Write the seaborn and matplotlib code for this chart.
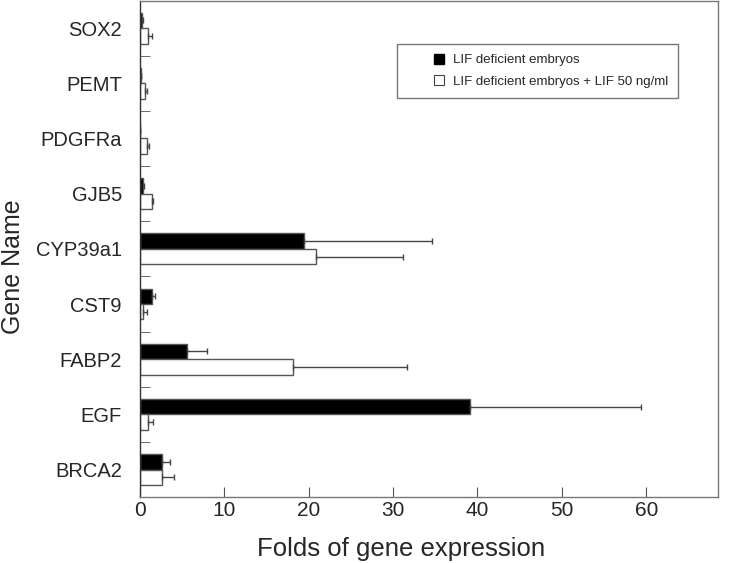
import numpy as np
import pandas as pd
import matplotlib
matplotlib.use('Agg')
import matplotlib.pyplot as plt
import seaborn as sns
from matplotlib.lines import Line2D
from matplotlib.ticker import FixedLocator

genes = ['SOX2', 'PEMT', 'PDGFRa', 'GJB5', 'CYP39a1', 'CST9', 'FABP2', 'EGF', 'BRCA2']
groups = ['LIF deficient embryos', 'LIF deficient embryos + LIF 50 ng/ml']
lif_def = [0.3, 0.1, 0.0, 0.4, 19.4, 1.4, 5.6, 39.1, 2.6]
lif_def_err = [0.1, 0.0, 0.0, 0.1, 15.2, 0.4, 2.3, 20.3, 1.0]
lif_add = [0.95, 0.6, 0.8, 1.45, 20.9, 0.4, 18.1, 1.0, 2.6]
lif_add_err = [0.5, 0.3, 0.3, 0.1, 10.3, 0.4, 13.6, 0.6, 1.5]

df = pd.DataFrame({
    'gene': genes * 2,
    'group': [groups[0]] * len(genes) + [groups[1]] * len(genes),
    'value': lif_def + lif_add,
})

sns.set_style('ticks')
plt.rcParams['font.family'] = ['Liberation Sans', 'DejaVu Sans']

fig = plt.figure(figsize=(7.32, 5.63), dpi=100)
ax = fig.add_axes([0.191, 0.117, 0.79, 0.882])

sns.barplot(data=df, y='gene', x='value', hue='group', order=genes,
            hue_order=groups, palette=['black', 'white'], width=0.56,
            orient='h', edgecolor='#555555', linewidth=1, legend=False,
            errorbar=None, ax=ax)

# error bars, positive side only
for cont, vals, errs in zip(ax.containers, [lif_def, lif_add], [lif_def_err, lif_add_err]):
    ys = [p.get_y() + p.get_height() / 2 for p in cont.patches]
    ax.errorbar(vals, ys, xerr=[np.zeros(len(errs)), errs], fmt='none',
                ecolor='#444444', elinewidth=1, capsize=2, capthick=1)

ax.set_xlim(0, 68.5)
ax.set_ylim(len(genes) - 0.5, -0.5)
ax.set_xticks([0, 10, 20, 30, 40, 50, 60])
ax.tick_params(axis='x', direction='in', length=7, labelsize=15, pad=3, color='#555555')
ax.tick_params(axis='y', which='major', length=0, labelsize=14.5, pad=13)
ax.yaxis.set_minor_locator(FixedLocator(np.arange(0.5, len(genes) - 1, 1)))
ax.tick_params(axis='y', which='minor', direction='in', length=7, color='#555555')

for s in ax.spines.values():
    s.set_visible(True)
    s.set_color('#777777')
    s.set_linewidth(1)
ax.spines['left'].set_color('#333333')

ax.set_xlabel('Folds of gene expression', fontsize=18.5, labelpad=12)
ax.xaxis.label.set_x(0.452)
ax.set_ylabel('Gene Name', fontsize=18)
ax.yaxis.set_label_coords(-0.199, 0.464)

handles = [Line2D([], [], ls='none', marker='s', markersize=7, markerfacecolor='black',
                  markeredgecolor='black'),
           Line2D([], [], ls='none', marker='s', markersize=7, markerfacecolor='white',
                  markeredgecolor='#444444', markeredgewidth=0.8)]
leg = ax.legend(handles, groups, loc='upper left', bbox_to_anchor=(0.445, 0.912),
                fontsize=9.5, frameon=True, fancybox=False, handlelength=4.85,
                borderpad=0.75, labelspacing=0.7, handletextpad=-1.36,
                borderaxespad=0)
leg.get_frame().set_edgecolor('#555555')
leg.get_frame().set_linewidth(1)

fig.savefig('out.png', dpi=100)
